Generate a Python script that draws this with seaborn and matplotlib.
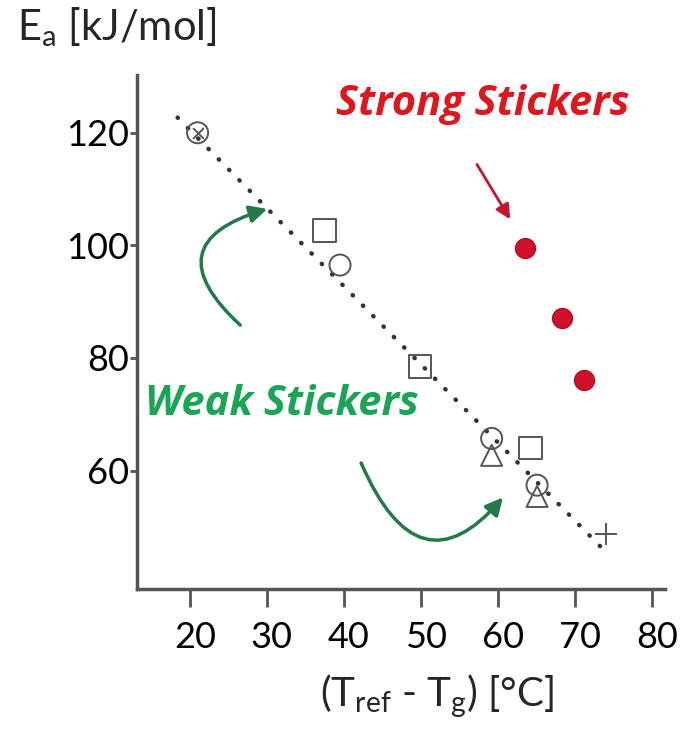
import numpy as np
import pandas as pd
import seaborn as sns
import matplotlib.pyplot as plt
import matplotlib.transforms as mtransforms

# values
circle_x = [21.0, 39.5, 59.2, 65.1]
circle_y = [120.0, 96.5, 65.7, 57.4]
square_x = [37.5, 49.9, 64.2]
square_y = [102.7, 78.5, 64.0]
tri_x = [59.2, 65.1]
tri_y = [62.7, 55.4]
plus_x = [74.0]
plus_y = [48.8]
cross_x = [21.0]
cross_y = [120.0]
strong_x = [63.5, 68.3, 71.2]
strong_y = [99.5, 87.1, 76.0]
fit_x = [18.4, 74.2]
fit_y = [122.7, 45.3]
xticks = [20, 30, 40, 50, 60, 70, 80]
yticks = [60, 80, 100, 120]

sns.set_theme(style="white")
plt.rcParams['font.family'] = ['Lato', 'DejaVu Sans']
plt.rcParams['mathtext.fontset'] = 'custom'
plt.rcParams['mathtext.rm'] = 'Lato'
plt.rcParams['mathtext.it'] = 'Lato:italic'

fig = plt.figure(figsize=(6.84, 7.33), dpi=100)
ax = fig.add_axes([0.200, 0.196, 0.772, 0.702])

grey = '#555555'

# dotted trend line
sns.lineplot(x=fit_x, y=fit_y, ax=ax, color='#333333', lw=3.2,
             linestyle=(0, (0.1, 3.2)), dash_capstyle='round')

open_kw = dict(facecolor='none', edgecolor=grey, linewidth=1.4, zorder=3)
sns.scatterplot(x=circle_x, y=circle_y, ax=ax, marker='o', s=230, **open_kw)
sns.scatterplot(x=square_x, y=square_y, ax=ax, marker='s', s=270, **open_kw)
sns.scatterplot(x=tri_x, y=tri_y, ax=ax, marker='^', s=230, **open_kw)
sns.scatterplot(x=plus_x, y=plus_y, ax=ax, marker='+', s=260, color=grey, linewidth=1.4, zorder=3)
sns.scatterplot(x=cross_x, y=cross_y, ax=ax, marker='x', s=60, color=grey, linewidth=1.4, zorder=3)
sns.scatterplot(x=strong_x, y=strong_y, ax=ax, marker='o', s=210, color='#d0102a',
                edgecolor='#b00a20', linewidth=0.8, zorder=3)

# annotations
ax.text(39.0, 123.2, 'Strong Stickers', color='#e0161e', fontsize=30,
        fontweight='bold', fontstyle='italic', va='baseline', ha='left',
        family=['Open Sans', 'DejaVu Sans'])
ax.text(14.2, 69.8, 'Weak Stickers', color='#1aa556', fontsize=30,
        fontweight='bold', fontstyle='italic', va='baseline', ha='left',
        family=['Open Sans', 'DejaVu Sans'])

ax.annotate('', xy=(61.8, 104.2), xytext=(57.1, 114.8),
            arrowprops=dict(arrowstyle='-|>', color='#c8142c', lw=2,
                            mutation_scale=22))
ax.annotate('', xy=(30.4, 106.6), xytext=(26.8, 85.5),
            arrowprops=dict(arrowstyle='-|>', color='#237a48', lw=2.5,
                            mutation_scale=26, connectionstyle='arc3,rad=-0.9'))
ax.annotate('', xy=(60.9, 55.6), xytext=(42.1, 61.8),
            arrowprops=dict(arrowstyle='-|>', color='#237a48', lw=2.5,
                            mutation_scale=26,
                            connectionstyle='angle3,angleA=-67,angleB=50'))

ax.set_xlim(13.1, 81.7)
ax.set_ylim(38.9, 130.3)
ax.set_xticks(xticks)
ax.set_yticks(yticks)
ax.tick_params(axis='both', labelsize=26, colors=grey, labelcolor='black', width=2)
ax.tick_params(axis='x', length=13, pad=10, direction='out', bottom=True)
ax.tick_params(axis='y', length=5, pad=2, direction='out', left=True)
sns.despine(ax=ax)
for s in ['left', 'bottom']:
    ax.spines[s].set_color(grey)
    ax.spines[s].set_linewidth(2.5)

# x tick labels sit a little right of their ticks in the original
xshift = mtransforms.ScaledTranslation(5 / 100, 0, fig.dpi_scale_trans)
for lab in ax.get_xticklabels():
    lab.set_transform(lab.get_transform() + xshift)
yshift = mtransforms.ScaledTranslation(2 / 100, 0, fig.dpi_scale_trans)
for lab in ax.get_yticklabels():
    lab.set_transform(lab.get_transform() + yshift)

fig.text(17 / 684, 1 - 40 / 733, 'E$_\\mathrm{a}$ [kJ/mol]', fontsize=30,
         va='baseline', ha='left')
fig.text(437 / 684, 1 - 707 / 733, '(T$_\\mathrm{ref}$ - T$_\\mathrm{g}$) [°C]',
         fontsize=29, va='baseline', ha='center')

fig.savefig('out.png', dpi=100, facecolor='white')
